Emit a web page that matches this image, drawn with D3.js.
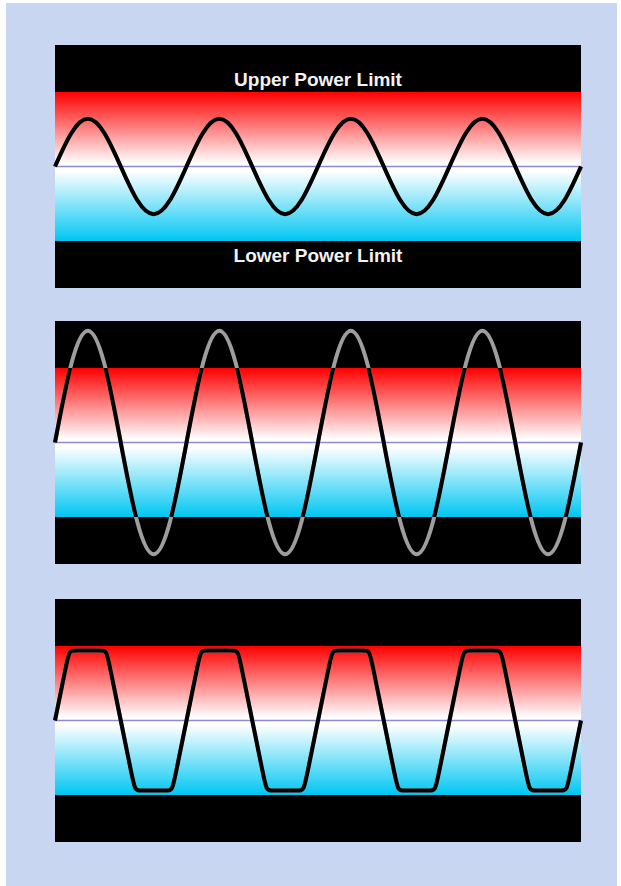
<!DOCTYPE html>
<html><head><meta charset="utf-8">
<script src="https://cdn.jsdelivr.net/npm/d3@7"></script>
<style>html,body{margin:0;padding:0;background:#fff;}svg{display:block;}</style>
</head><body>
<script>
// ---- data (time in cycles, values relative to limits: +1 = upper limit, -1 = lower limit)
const sineTime = [0,0.125,0.25,0.375,0.5,0.625,0.75,0.875,1,1.125,1.25,1.375,1.5,1.625,1.75,1.875,2,2.125,2.25,2.375,2.5,2.625,2.75,2.875,3,3.125,3.25,3.375,3.5,3.625,3.75,3.875,4];
const wave1 = [0,0.45,0.64,0.45,0,-0.45,-0.64,-0.45,0,0.45,0.64,0.45,0,-0.45,-0.64,-0.45,0,0.45,0.64,0.45,0,-0.45,-0.64,-0.45,0,0.45,0.64,0.45,0,-0.45,-0.64,-0.45,0];
const wave2 = [0,1.06,1.5,1.06,0,-1.06,-1.5,-1.06,0,1.06,1.5,1.06,0,-1.06,-1.5,-1.06,0,1.06,1.5,1.06,0,-1.06,-1.5,-1.06,0,1.06,1.5,1.06,0,-1.06,-1.5,-1.06,0];
const clipTime = [0,0.085,0.108,0.145,0.355,0.392,0.415,0.5,0.585,0.608,0.645,0.855,0.892,0.915,
  1,1.085,1.108,1.145,1.355,1.392,1.415,1.5,1.585,1.608,1.645,1.855,1.892,1.915,
  2,2.085,2.108,2.145,2.355,2.392,2.415,2.5,2.585,2.608,2.645,2.855,2.892,2.915,
  3,3.085,3.108,3.145,3.355,3.392,3.415,3.5,3.585,3.608,3.645,3.855,3.892,3.915,4];
const wave3 = [0,0.74,0.94,0.94,0.94,0.94,0.74,0,-0.74,-0.94,-0.94,-0.94,-0.94,-0.74,
  0,0.74,0.94,0.94,0.94,0.94,0.74,0,-0.74,-0.94,-0.94,-0.94,-0.94,-0.74,
  0,0.74,0.94,0.94,0.94,0.94,0.74,0,-0.74,-0.94,-0.94,-0.94,-0.94,-0.74,
  0,0.74,0.94,0.94,0.94,0.94,0.74,0,-0.74,-0.94,-0.94,-0.94,-0.94,-0.74,0];
const upperLabel = "Upper Power Limit";
const lowerLabel = "Lower Power Limit";

const W = 621, H = 886;
const svg = d3.select("body").append("svg").attr("width", W).attr("height", H);
svg.append("rect").attr("x",6).attr("y",3).attr("width",611).attr("height",883).attr("fill","#c8d6f2");

const defs = svg.append("defs");
const grad = defs.append("linearGradient").attr("id","band").attr("x1",0).attr("y1",0).attr("x2",0).attr("y2",1);
grad.append("stop").attr("offset","0%").attr("stop-color","#ff0000");
grad.append("stop").attr("offset","48%").attr("stop-color","#ffffff");
grad.append("stop").attr("offset","53%").attr("stop-color","#ffffff");
grad.append("stop").attr("offset","100%").attr("stop-color","#00c6f2");

const x = d3.scaleLinear().domain([0,4]).range([55,581]);
const panels = [
  {top:45,  t:sineTime, v:wave1, curve:d3.curveNatural, labels:true},
  {top:321, t:sineTime, v:wave2, curve:d3.curveNatural, labels:false},
  {top:599, t:clipTime, v:wave3, curve:d3.curveBasis, labels:false}
];
const capH = 47, bandH = 149;

panels.forEach((p,i) => {
  const g = svg.append("g");
  const bandTop = p.top + capH, bandBot = bandTop + bandH;
  const y = d3.scaleLinear().domain([-1,1]).range([bandBot, bandTop]);
  g.append("rect").attr("x",x(0)).attr("y",p.top).attr("width",x(4)-x(0)).attr("height",capH*2+bandH).attr("fill","#000");
  g.append("rect").attr("x",x(0)).attr("y",bandTop).attr("width",x(4)-x(0)).attr("height",bandH).attr("fill","url(#band)");
  g.append("line").attr("x1",x(0)).attr("x2",x(4)).attr("y1",y(0)).attr("y2",y(0)).attr("stroke","#8c8ad0").attr("stroke-width",1.3);
  defs.append("clipPath").attr("id","clip"+i).append("rect")
    .attr("x",0).attr("y",bandTop).attr("width",W).attr("height",bandH);
  const pts = p.t.map((t,k)=>[t,p.v[k]]);
  const line = d3.line().x(d=>x(d[0])).y(d=>y(d[1])).curve(p.curve);
  g.append("path").attr("d",line(pts)).attr("fill","none").attr("stroke","#9e9e9e").attr("stroke-width",4).attr("stroke-linejoin","round");
  g.append("path").attr("d",line(pts)).attr("fill","none").attr("stroke","#000").attr("stroke-width",4).attr("stroke-linejoin","round").attr("clip-path","url(#clip"+i+")");
  if (p.labels) {
    g.append("text").attr("x",(x(0)+x(4))/2).attr("y",bandTop-6).attr("text-anchor","middle")
      .attr("font-family","'Liberation Sans', Arial, sans-serif").attr("font-weight","bold").attr("font-size",19)
      .attr("fill","#f2f2f2").text(upperLabel);
    g.append("text").attr("x",(x(0)+x(4))/2).attr("y",bandBot+21).attr("text-anchor","middle")
      .attr("font-family","'Liberation Sans', Arial, sans-serif").attr("font-weight","bold").attr("font-size",19)
      .attr("fill","#f2f2f2").text(lowerLabel);
  }
});
</script>
</body></html>
